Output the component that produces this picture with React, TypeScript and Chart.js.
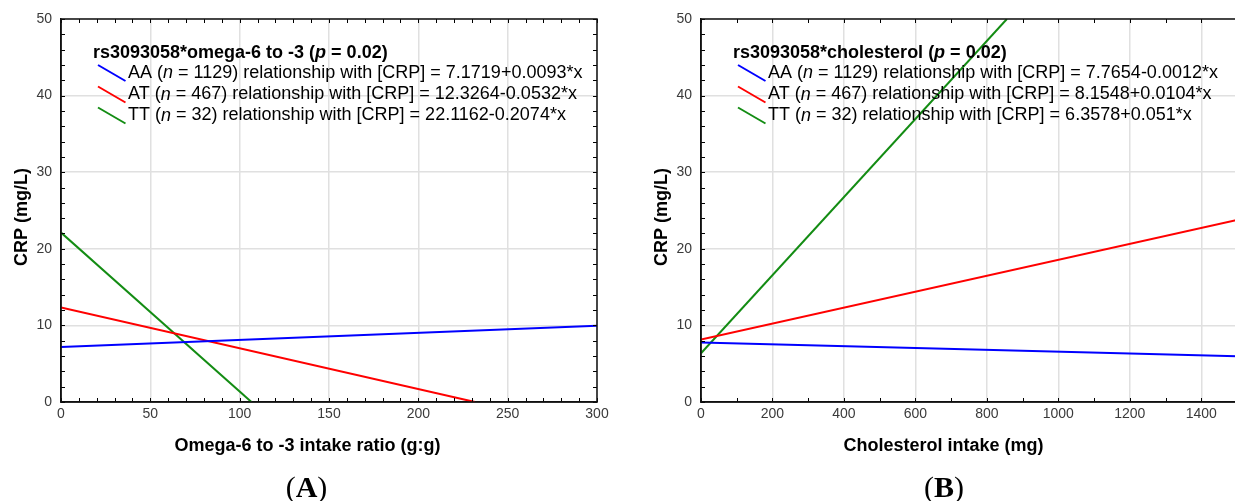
import React, { useEffect, useRef } from "react";
import { Chart, registerables } from "chart.js";

Chart.register(...registerables);

// ---------- data ----------
const genotypes = ["AA", "AT", "TT"];
const genotypeN = [1129, 467, 32];

const omegaEquations = ["7.1719+0.0093*x", "12.3264-0.0532*x", "22.1162-0.2074*x"];
const omegaX = [
  [0, 300],
  [0, 231.7],
  [0, 106.6],
];
const omegaCRP = [
  [7.17, 9.96],
  [12.33, 0],
  [22.12, 0],
];

const cholEquations = ["7.7654-0.0012*x", "8.1548+0.0104*x", "6.3578+0.051*x"];
const cholX = [
  [0, 1500],
  [0, 1500],
  [0, 856],
];
const cholCRP = [
  [7.77, 5.97],
  [8.15, 23.75],
  [6.36, 50],
];

const seriesColors = ["#0000ff", "#ff0000", "#138c13"];
const SANS = '"Liberation Sans", Arial, sans-serif';
const SERIF = '"Liberation Serif", "Times New Roman", serif';

type PanelProps = {
  left: number;
  xs: number[][];
  ys: number[][];
  equations: string[];
  xMax: number;
  xStep: number;
  xMinor: number;
  titleMain: string;
  xTitle: string;
  xTitleCenter: number;
  letter: string;
  letterCenter: number;
  rightTicks: boolean;
};

type Seg = [string, boolean];

function drawRich(ctx: CanvasRenderingContext2D, x: number, y: number, segs: Seg[], size: number, bold: boolean) {
  let cx = x;
  for (const [text, italic] of segs) {
    ctx.font = `${italic ? "italic " : ""}${bold ? "bold " : ""}${size}px ${SANS}`;
    ctx.fillText(text, cx, y);
    cx += ctx.measureText(text).width;
  }
}

function Panel(props: PanelProps) {
  const ref = useRef<HTMLCanvasElement | null>(null);
  useEffect(() => {
    const canvas = ref.current;
    if (!canvas) return;
    const decor = {
      id: "decor",
      afterDraw(chart: any) {
        const ctx: CanvasRenderingContext2D = chart.ctx;
        const { left, right, top, bottom } = chart.chartArea;
        const xs = chart.scales.x;
        const ys = chart.scales.y;
        ctx.save();
        // minor ticks on the sides
        ctx.strokeStyle = "#000";
        ctx.lineWidth = 1;
        ctx.beginPath();
        for (let v = 0; v <= props.xMax + 1e-9; v += props.xMinor) {
          const px = Math.round(xs.getPixelForValue(v)) + 0.5;
          ctx.moveTo(px, bottom);
          ctx.lineTo(px, bottom - 4);
          ctx.moveTo(px, top);
          ctx.lineTo(px, top + 4);
        }
        for (let v = 0; v <= 50 + 1e-9; v += 2) {
          const py = Math.round(ys.getPixelForValue(v)) + 0.5;
          ctx.moveTo(left, py);
          ctx.lineTo(left + 4, py);
          if (props.rightTicks) {
            ctx.moveTo(right, py);
            ctx.lineTo(right - 4, py);
          }
        }
        ctx.stroke();
        // frame
        ctx.strokeStyle = "#111";
        ctx.lineWidth = 1.5;
        ctx.strokeRect(Math.round(left), Math.round(top), Math.round(right - left), Math.round(bottom - top));

        // legend
        ctx.fillStyle = "#000";
        ctx.textBaseline = "middle";
        ctx.textAlign = "left";
        drawRich(ctx, left + 32, 53, [[props.titleMain + " (", false], ["p", true], [" = 0.02)", false]], 18, true);
        const rowY = [73, 94.5, 115.5];
        genotypes.forEach((g, i) => {
          const y = rowY[i];
          ctx.strokeStyle = seriesColors[i];
          ctx.lineWidth = 2;
          ctx.beginPath();
          ctx.moveTo(left + 37, y - 8);
          ctx.lineTo(left + 64.5, y + 8);
          ctx.stroke();
          ctx.fillStyle = "#000";
          drawRich(
            ctx,
            left + 67,
            y,
            [
              [g + " (", false],
              ["n", true],
              [` = ${genotypeN[i]}) relationship with [CRP] = ${props.equations[i]}`, false],
            ],
            18,
            false
          );
        });

        // axis titles
        ctx.fillStyle = "#000";
        ctx.font = `bold 18px ${SANS}`;
        ctx.textAlign = "center";
        ctx.textBaseline = "alphabetic";
        ctx.fillText(props.xTitle, props.xTitleCenter, 451);
        ctx.save();
        ctx.translate(27, 217);
        ctx.rotate(-Math.PI / 2);
        ctx.fillText("CRP (mg/L)", 0, 0);
        ctx.restore();

        // panel letter (A)/(B)
        ctx.textAlign = "left";
        const parts: [string, boolean][] = [["(", false], [props.letter, true], [")", false]];
        let total = 0;
        for (const [t, b] of parts) {
          ctx.font = `${b ? "bold " : ""}30px ${SERIF}`;
          total += ctx.measureText(t).width;
        }
        let cx = props.letterCenter - total / 2;
        for (const [t, b] of parts) {
          ctx.font = `${b ? "bold " : ""}30px ${SERIF}`;
          ctx.fillText(t, cx, 497);
          cx += ctx.measureText(t).width;
        }
        ctx.restore();
      },
    };

    const chart = new Chart(canvas, {
      type: "line",
      data: {
        datasets: genotypes.map((g, i) => ({
          label: g,
          data: props.xs[i].map((x, j) => ({ x, y: props.ys[i][j] })),
          borderColor: seriesColors[i],
          backgroundColor: seriesColors[i],
          borderWidth: 2,
          pointRadius: 0,
          fill: false,
          tension: 0,
        })),
      },
      options: {
        responsive: false,
        animation: false,
        events: [],
        layout: { padding: { left: 0, right: 23, top: 19, bottom: 0 } },
        plugins: { legend: { display: false }, tooltip: { enabled: false }, title: { display: false } },
        scales: {
          x: {
            type: "linear",
            min: 0,
            max: props.xMax,
            ticks: {
              stepSize: props.xStep,
              includeBounds: false,
              color: "#3a3a3a",
              font: { size: 14, family: SANS },
              padding: 4,
              maxRotation: 0,
              autoSkip: false,
              callback: (v: any) => String(v),
            },
            grid: { color: "#e0e0e0", lineWidth: 1.5, drawTicks: false },
            border: { display: true, color: "#111", width: 1.5 },
            afterFit: (s: any) => {
              s.height = 99;
              s.paddingLeft = 0;
              s.paddingRight = 0;
            },
          },
          y: {
            type: "linear",
            min: 0,
            max: 50,
            ticks: {
              stepSize: 10,
              color: "#3a3a3a",
              font: { size: 14, family: SANS },
              padding: 9,
              callback: (v: any) => String(v),
            },
            grid: { color: "#e0e0e0", lineWidth: 1.5, drawTicks: false },
            border: { display: true, color: "#111", width: 1.5 },
            afterFit: (s: any) => {
              s.width = 61;
              s.paddingTop = 0;
              s.paddingBottom = 0;
            },
          },
        },
      },
      plugins: [decor],
    } as any);
    return () => chart.destroy();
  }, []);

  return (
    <canvas
      ref={ref}
      width={620}
      height={501}
      style={{ position: "absolute", left: props.left, top: 0, width: 620, height: 501 }}
    />
  );
}

export default function App() {
  return (
    <div
      style={{
        position: "fixed",
        left: 0,
        top: 0,
        width: 1235,
        height: 501,
        overflow: "hidden",
        background: "#fff",
      }}
    >
      <Panel
        left={0}
        xs={omegaX}
        ys={omegaCRP}
        equations={omegaEquations}
        xMax={300}
        xStep={50}
        xMinor={10}
        titleMain="rs3093058*omega-6 to -3"
        xTitle="Omega-6 to -3 intake ratio (g:g)"
        xTitleCenter={307.5}
        letter="A"
        letterCenter={306.5}
        rightTicks={true}
      />
      <Panel
        left={640}
        xs={cholX}
        ys={cholCRP}
        equations={cholEquations}
        xMax={1500}
        xStep={200}
        xMinor={100}
        titleMain="rs3093058*cholesterol"
        xTitle="Cholesterol intake (mg)"
        xTitleCenter={303.5}
        letter="B"
        letterCenter={304}
        rightTicks={false}
      />
    </div>
  );
}
